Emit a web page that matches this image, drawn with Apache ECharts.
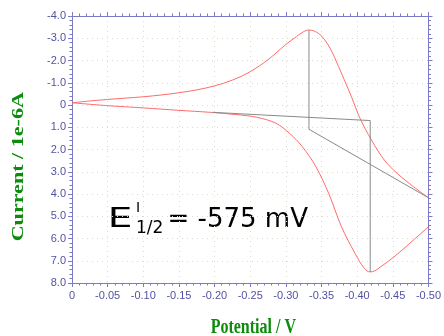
<!DOCTYPE html>
<html>
<head>
<meta charset="utf-8">
<script src="https://cdn.jsdelivr.net/npm/echarts@6/dist/echarts.min.js"></script>
<style>html,body{margin:0;padding:0;background:#fff;}#c{width:444px;height:336px;}</style>
</head>
<body>
<div id="c"></div>
<script>
// Forward (cathodic) sweep
var fwdPotential = [0, -0.05, -0.10, -0.15, -0.194, -0.23, -0.259, -0.286, -0.305, -0.323, -0.342, -0.360, -0.378, -0.397, -0.410, -0.418, -0.425, -0.433, -0.452, -0.479, -0.500];
var fwdCurrent   = [-0.10, 0.03, 0.13, 0.24, 0.33, 0.43, 0.55, 0.82, 1.27, 1.87, 2.77, 3.97, 5.47, 6.67, 7.34, 7.50, 7.45, 7.27, 6.82, 6.07, 5.47];
// Reverse (anodic) sweep
var revPotential = [0, -0.025, -0.05, -0.075, -0.10, -0.125, -0.15, -0.175, -0.20, -0.225, -0.25, -0.275, -0.30, -0.315, -0.325, -0.332, -0.340, -0.350, -0.362, -0.374, -0.383, -0.392, -0.404, -0.420, -0.438, -0.456, -0.479, -0.500];
var revCurrent   = [-0.10, -0.18, -0.25, -0.31, -0.37, -0.45, -0.55, -0.68, -0.86, -1.12, -1.50, -2.04, -2.72, -3.08, -3.30, -3.37, -3.32, -3.10, -2.55, -1.72, -1.05, -0.37, 0.60, 1.57, 2.47, 3.07, 3.67, 4.17];
// Peak baseline construction lines
var baseAPotential = [-0.197, -0.4183, -0.4183];
var baseACurrent   = [0.33, 0.70, 7.50];
var baseBPotential = [-0.3324, -0.3324, -0.500];
var baseBCurrent   = [-3.37, 1.09, 4.17];

function pairs(xs, ys){ return xs.map(function(x,i){ return [x, ys[i]]; }); }

var axisCol = '#7a7ac8';
var labelCol = '#5252a2';
var chart = echarts.init(document.getElementById('c'), null, {renderer:'canvas'});
function xAx(pos, show){
  return {
    type:'value', position:pos, min:-0.5, max:0, interval:0.05, inverse:true,
    axisLine:{show:true, onZero:false, lineStyle:{color:axisCol, width:1}},
    axisTick:{show:true, inside:false, length:4, lineStyle:{color:axisCol}},
    minorTick:{show:true, splitNumber:5, length:2.5, lineStyle:{color:axisCol}},
    axisLabel:{show:show, color:labelCol, fontFamily:'Liberation Sans, Arial', fontSize:11, margin:7,
      formatter:function(v){ return Math.abs(v)<1e-9 ? '0' : v.toFixed(2); }},
    splitLine:{show:show, lineStyle:{color:'#dcdccb', type:[1,4], width:1}},
    minorSplitLine:{show:false}
  };
}
function yAx(pos, show){
  return {
    type:'value', position:pos, min:-4, max:8, interval:1, inverse:true,
    axisLine:{show:true, onZero:false, lineStyle:{color:axisCol, width:1}},
    axisTick:{show:true, inside:false, length:4, lineStyle:{color:axisCol}},
    minorTick:{show:true, splitNumber:5, length:2.5, lineStyle:{color:axisCol}},
    axisLabel:{show:show, color:labelCol, fontFamily:'Liberation Sans, Arial', fontSize:11, margin:6,
      formatter:function(v){ return Math.abs(v)<1e-9 ? '0' : v.toFixed(1); }},
    splitLine:{show:show, lineStyle:{color:'#dcdccb', type:[1,4], width:1}},
    minorSplitLine:{show:false}
  };
}
var red = '#ff6b6b';
var gray = '#8a8a8a';
var green = '#0c8c0c';
chart.setOption({
  animation:false,
  backgroundColor:'#ffffff',
  grid:{left:72, right:9, top:16, bottom:53, containLabel:false},
  xAxis:[xAx('bottom', true), xAx('top', false)],
  yAxis:[yAx('left', true), yAx('right', false)],
  series:[
    {type:'line', data:pairs(fwdPotential, fwdCurrent), smooth:0.35, showSymbol:false, lineStyle:{color:red, width:1}, z:3},
    {type:'line', data:pairs(revPotential, revCurrent), smooth:0.35, showSymbol:false, lineStyle:{color:red, width:1}, z:3},
    {type:'line', data:pairs(baseAPotential, baseACurrent), showSymbol:false, lineStyle:{color:gray, width:1}, z:4},
    {type:'line', data:pairs(baseBPotential, baseBCurrent), showSymbol:false, lineStyle:{color:gray, width:1}, z:4}
  ],
  graphic:[
    {type:'text', x:18.3, y:166.7, rotation:Math.PI/2, scaleX:1.3, scaleY:1,
      style:{text:'Current / 1e-6A', font:'bold 17px "Liberation Serif", "Times New Roman", serif', fill:green, textAlign:'center', textVerticalAlign:'middle'}},
    {type:'text', x:253.3, y:328.2, scaleX:1, scaleY:1.25,
      style:{text:'Potential / V', font:'bold 16px "Liberation Serif", "Times New Roman", serif', fill:green, textAlign:'center', textVerticalAlign:'middle'}},
    {type:'text', x:107.8, y:220.3, scaleX:1.5, scaleY:1,
      style:{text:'E', font:'26px "DejaVu Sans", Verdana, sans-serif', fill:'#000', textAlign:'left', textVerticalAlign:'middle'}},
    {type:'text', x:135.9, y:208.2, style:{text:'I', font:'14px "DejaVu Sans", Verdana, sans-serif', fill:'#000', textAlign:'left', textVerticalAlign:'middle'}},
    {type:'text', x:136.0, y:228.8, style:{text:'1/2', font:'17px "DejaVu Sans", Verdana, sans-serif', fill:'#000', textAlign:'left', textVerticalAlign:'middle'}},
    {type:'text', x:167.5, y:220.3, style:{text:'= -575 mV', font:'26px "DejaVu Sans", Verdana, sans-serif', fill:'#000', textAlign:'left', textVerticalAlign:'middle'}}
  ]
});
</script>
</body>
</html>
